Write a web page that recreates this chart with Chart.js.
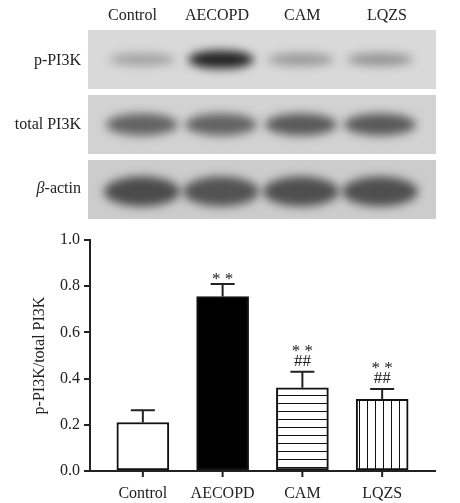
<!DOCTYPE html>
<html><head><meta charset="utf-8">
<script src="https://cdn.jsdelivr.net/npm/chart.js@4"></script>
<style>
html,body{margin:0;padding:0;background:#fff;width:460px;height:503px;overflow:hidden;font-family:"Liberation Serif",serif}
#blot{position:absolute;left:0;top:0}
#wrap{position:absolute;left:0;top:220px;width:460px;height:283px}
.lab{position:absolute;font-size:16px;color:#222;font-family:"Liberation Serif",serif}
</style></head><body>
<canvas id="blot" width="460" height="220"></canvas>
<div class="lab" style="left:108px;top:6px">Control</div>
<div class="lab" style="left:185px;top:6px">AECOPD</div>
<div class="lab" style="left:284px;top:6px">CAM</div>
<div class="lab" style="left:367px;top:6px">LQZS</div>
<div class="lab" style="right:379px;top:51px">p-PI3K</div>
<div class="lab" style="right:379px;top:115px">total PI3K</div>
<div class="lab" style="right:379px;top:179px"><i>β</i>-actin</div>
<div id="wrap"><canvas id="c" width="460" height="283"></canvas></div>
<script>
const categories = ["Control","AECOPD","CAM","LQZS"];
const values = [0.21,0.755,0.36,0.31];
const errors = [0.053,0.055,0.07,0.045];
const marks = [[],["**"],["**","##"],["**","##"]];
const yTicks = [0,0.2,0.4,0.6,0.8,1.0];
// blot band intensity (0..1) per lane
const bandPPI3K = [0.28,0.95,0.33,0.36];
const bandTotal = [0.6,0.6,0.65,0.65];
const bandActin = [0.72,0.68,0.7,0.7];

const b=document.getElementById('blot').getContext('2d');
const lanes=[142,221,301,380];
function panel(y,h,bg,band,bw,bh,dy){
  b.fillStyle=bg;b.fillRect(88,y,348,h);
  b.save();b.beginPath();b.rect(88,y,348,h);b.clip();
  b.filter='blur(5px)';
  band.forEach((v,i)=>{
    const cx=lanes[i],cy=y+h/2+dy;
    b.fillStyle=`rgba(25,25,25,${v})`;
    b.beginPath();b.ellipse(cx,cy,bw/2,bh/2*(i===1&&bh<20?1.4:1),0,0,Math.PI*2);b.fill();
  });
  b.restore();
}
panel(30,59,'#d9d9d9',bandPPI3K,66,13,0);
panel(95,59,'#d2d2d2',bandTotal,72,22,0);
panel(160,59,'#cccccc',bandActin,76,30,2);

function pat(dir){
  const p=document.createElement('canvas');p.width=8;p.height=8;
  const x=p.getContext('2d');x.fillStyle='#fff';x.fillRect(0,0,8,8);
  x.fillStyle='#111';
  if(dir==='h')x.fillRect(0,7,8,1.3);else x.fillRect(7,0,1.3,8);
  return x.createPattern(p,'repeat');
}
const ctx=document.getElementById('c').getContext('2d');
const fills=['#ffffff','#000000',pat('h'),pat('v')];

const extras={id:'extras',afterDatasetsDraw(ch){
  const c=ch.ctx,xs=ch.scales.x,ys=ch.scales.y;
  c.save();c.strokeStyle='#222';c.lineWidth=2;c.fillStyle='#222';
  values.forEach((v,i)=>{
    const x=xs.getPixelForValue(i+1),y0=ys.getPixelForValue(v),y1=ys.getPixelForValue(v+errors[i]);
    c.beginPath();c.moveTo(x,y0);c.lineTo(x,y1);c.moveTo(x-12,y1);c.lineTo(x+12,y1);c.stroke();
    c.font='17px "Liberation Serif",serif';c.textAlign='center';
    const m=marks[i];
    m.forEach((t,k)=>{
      const yy=y1-6-(m.length-1-k)*16;
      c.fillText(t==='**'?'* *':t,x,yy+(t==='**'?6:0));
    });
  });
  const by=ys.getPixelForValue(0);
  c.lineWidth=2;c.beginPath();c.moveTo(ch.chartArea.left,by);c.lineTo(ch.chartArea.right,by);c.stroke();
  values.forEach((v,i)=>{const x=xs.getPixelForValue(i+1);c.beginPath();c.moveTo(x,by);c.lineTo(x,by+6);c.stroke();});
  c.restore();
}};

new Chart(ctx,{type:'bar',
 data:{datasets:[{data:values.map((v,i)=>({x:i+1,y:v})),backgroundColor:fills,borderColor:'#111',borderWidth:2,barThickness:52,borderSkipped:false}]},
 options:{responsive:false,animation:false,events:[],
  layout:{padding:{top:20,right:24,left:0,bottom:0}},
  plugins:{legend:{display:false},tooltip:{enabled:false}},
  scales:{
   x:{type:'linear',offset:false,min:0.3375,max:4.675,afterFit:s=>{s.height=32},
      afterBuildTicks:s=>{s.ticks=[1,2,3,4].map(v=>({value:v}))},
      grid:{display:false,drawTicks:false},border:{display:false},
      ticks:{padding:13,color:'#222',font:{family:'"Liberation Serif",serif',size:16},callback:v=>categories[v-1]}},
   y:{min:0,max:1,afterFit:s=>{s.width=90},
      afterBuildTicks:s=>{s.ticks=yTicks.map(v=>({value:v}))},
      grid:{display:true,drawOnChartArea:false,drawTicks:true,tickLength:6,color:'#222',lineWidth:2},
      border:{display:true,color:'#222',width:2},
      title:{display:true,text:'p-PI3K/total PI3K',color:'#222',font:{family:'"Liberation Serif",serif',size:16},padding:{top:30,bottom:4}},
      ticks:{padding:4,color:'#222',font:{family:'"Liberation Serif",serif',size:16},callback:v=>v.toFixed(1)}}
  }},plugins:[extras]});
</script></body></html>
